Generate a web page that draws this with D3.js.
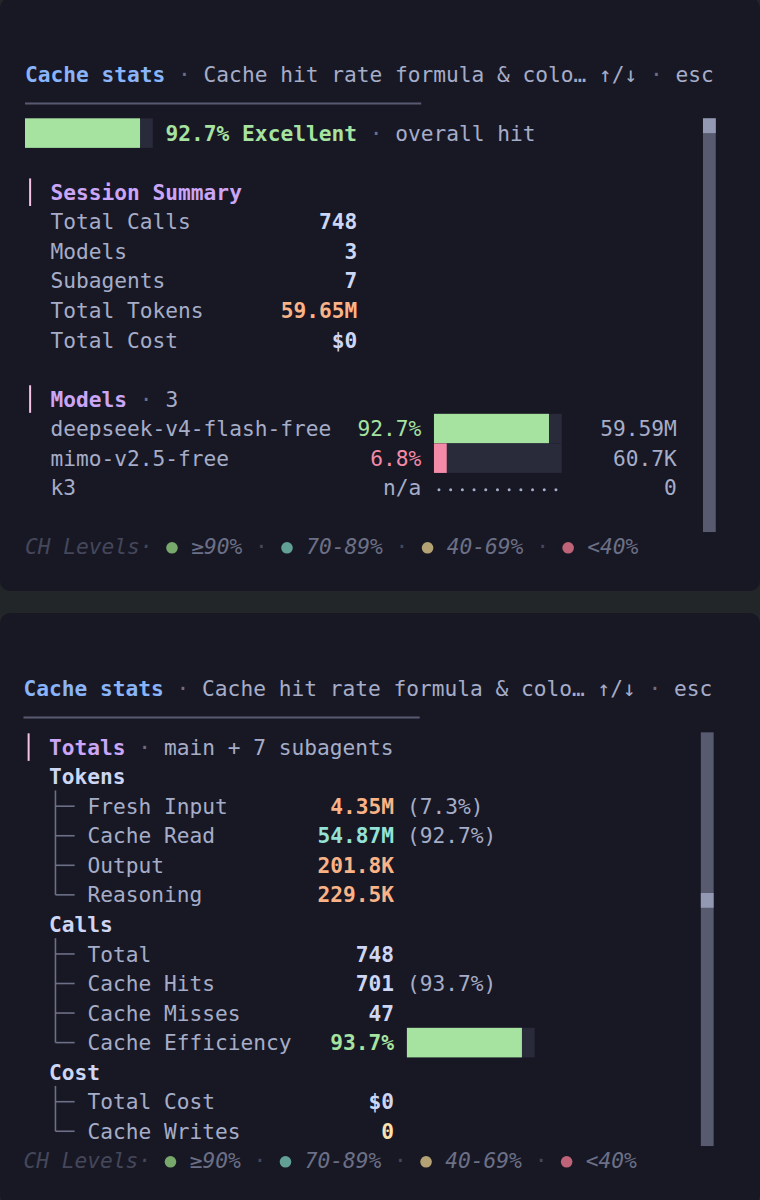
<!DOCTYPE html>
<html>
<head>
<meta charset="utf-8">
<script src="https://cdn.jsdelivr.net/npm/d3@7"></script>
<style>
  html, body { margin: 0; padding: 0; background: #222629; }
  svg { display: block; }
</style>
</head>
<body>
<svg id="view"></svg>
<script>
// ---- data ----
const titleMain = "Cache stats";
const titleSub = "Cache hit rate formula & colo… ↑/↓";
const overallHit = 92.7;

const summaryLabels = ["Total Calls", "Models", "Subagents", "Total Tokens", "Total Cost"];
const summaryValues = ["748", "3", "7", "59.65M", "$0"];

const modelNames = ["deepseek-v4-flash-free", "mimo-v2.5-free", "k3"];
const modelHitRates = [92.7, 6.8, null];
const modelTokens = ["59.59M", "60.7K", "0"];

const totalsNote = "main + 7 subagents";
const tokenLabels = ["Fresh Input", "Cache Read", "Output", "Reasoning"];
const tokenValues = ["4.35M", "54.87M", "201.8K", "229.5K"];
const tokenShares = ["(7.3%)", "(92.7%)", "", ""];
const callLabels = ["Total", "Cache Hits", "Cache Misses", "Cache Efficiency"];
const callValues = ["748", "701", "47", "93.7%"];
const callShares = ["", "(93.7%)", "", ""];
const cacheEfficiency = 93.7;
const costLabels = ["Total Cost", "Cache Writes"];
const costValues = ["$0", "0"];

const levelLabels = ["≥90%", "70-89%", "40-69%", "<40%"];

// ---- look ----
const W = 760, H = 1200;
const cw = 12.78, lh = 29.55, fs = 21.2;
const C = {
  panel: "#181825", text: "#cdd6f4", sub: "#a6adc8", dim: "#6c7086", faint: "#45475a",
  blue: "#89b4fa", mauve: "#cba6f7", green: "#a6e3a1", peach: "#fab387", pink: "#f38ba8",
  teal: "#94e2d5", yellow: "#f9e2af", track: "#292a3a", rule: "#585b70", accent: "#f5c2e7",
  thumb: "#9399b2", tree: "#6c7086"
};
const valueColor = {
  "Total Tokens": C.peach, "Fresh Input": C.peach, "Cache Read": C.teal, "Output": C.peach,
  "Reasoning": C.peach, "Cache Writes": C.yellow
};
const levelDots = ["#78a86c", "#62a096", "#b4a274", "#bf6478"];

const hitColor = d3.scaleThreshold().domain([40, 70, 90]).range([C.pink, C.yellow, C.teal, C.green]);
const hitWord = d3.scaleThreshold().domain([40, 70, 90]).range(["Poor", "Fair", "Good", "Excellent"]);
const barX = d3.scaleLinear().domain([0, 100]).range([0, 10 * cw]);
valueColor["Cache Efficiency"] = hitColor(cacheEfficiency);

const svg = d3.select("#view").attr("width", W).attr("height", H)
  .attr("viewBox", [0, 0, W, H])
  .style("font-family", "'DejaVu Sans Mono', 'Liberation Mono', monospace")
  .style("font-size", fs + "px");

svg.append("rect").attr("width", W).attr("height", H).attr("fill", "#222629");

function panel(y0, y1, x0, top) {
  svg.append("rect").attr("x", 0).attr("y", y0).attr("width", W).attr("height", y1 - y0)
    .attr("rx", 10).attr("fill", C.panel);
  const g = svg.append("g");
  const cx = c => x0 + c * cw;
  const cy = r => top + r * lh;
  const txt = (c, r, s, col, opt = {}) => g.append("text")
    .attr("x", cx(c)).attr("y", cy(r)).attr("dy", "0.36em")
    .attr("text-anchor", opt.end ? "end" : "start")
    .attr("fill", col).attr("font-weight", opt.bold ? "bold" : null)
    .attr("font-style", opt.italic ? "italic" : null)
    .text(s);
  return { g, cx, cy, txt };
}

function header(p) {
  const t = p.g.append("text").attr("x", p.cx(0)).attr("y", p.cy(0)).attr("dy", "0.36em");
  t.append("tspan").attr("fill", C.blue).attr("font-weight", "bold").text(titleMain);
  t.append("tspan").attr("fill", C.dim).text(" · ");
  t.append("tspan").attr("fill", C.sub).text(titleSub);
  t.append("tspan").attr("fill", C.dim).text(" · ");
  t.append("tspan").attr("fill", C.sub).text("esc");
  p.g.append("line").attr("x1", p.cx(0)).attr("x2", p.cx(31)).attr("y1", p.cy(1)).attr("y2", p.cy(1))
    .attr("stroke", C.rule).attr("stroke-width", 2);
}

function bar(p, col, row, pct) {
  p.g.append("rect").attr("x", p.cx(col)).attr("y", p.cy(row) - lh / 2)
    .attr("width", barX(100)).attr("height", lh).attr("fill", C.track);
  p.g.append("rect").attr("x", p.cx(col)).attr("y", p.cy(row) - lh / 2)
    .attr("width", barX(Math.max(1, Math.round(pct / 10)) * 10)).attr("height", lh)
    .attr("fill", hitColor(pct));
}

function accent(p, row) {
  p.g.append("line").attr("x1", p.cx(0.4)).attr("x2", p.cx(0.4))
    .attr("y1", p.cy(row) - lh / 2 + 1).attr("y2", p.cy(row) + lh / 2 - 1)
    .attr("stroke", C.accent).attr("stroke-width", 2);
}

function legend(p, row) {
  p.txt(0, row, "CH Levels·", C.faint, { italic: true });
  let c = 11;
  levelLabels.forEach((l, i) => {
    p.g.append("circle").attr("cx", p.cx(c + 0.5)).attr("cy", p.cy(row) + 1).attr("r", 5.8).attr("fill", levelDots[i]);
    p.txt(c + 2, row, l, C.dim, { italic: true });
    c += 2 + l.length + 1;
    if (i < levelLabels.length - 1) { p.txt(c, row, "·", C.faint); c += 2; }
  });
}

function scroll(p, col, r0, r1, thumbY) {
  p.g.append("rect").attr("x", p.cx(col)).attr("y", p.cy(r0) - lh / 2)
    .attr("width", cw).attr("height", (r1 - r0 + 1) * lh).attr("fill", C.rule);
  p.g.append("rect").attr("x", p.cx(col)).attr("y", thumbY)
    .attr("width", cw).attr("height", lh / 2).attr("fill", C.thumb);
}

// ---- panel 1 ----
const p1 = panel(-2, 591, 25, 74);
header(p1);
bar(p1, 0, 2, overallHit);
{
  const t = p1.g.append("text").attr("x", p1.cx(11)).attr("y", p1.cy(2)).attr("dy", "0.36em");
  t.append("tspan").attr("fill", hitColor(overallHit)).attr("font-weight", "bold")
    .text(d3.format(".1f")(overallHit) + "% " + hitWord(overallHit));
  t.append("tspan").attr("fill", C.dim).text(" · ");
  t.append("tspan").attr("fill", C.sub).text("overall hit");
}
accent(p1, 4);
p1.txt(2, 4, "Session Summary", C.mauve, { bold: true });
summaryLabels.forEach((l, i) => {
  p1.txt(2, 5 + i, l, C.sub);
  p1.txt(26, 5 + i, summaryValues[i], valueColor[l] || C.text, { end: true, bold: true });
});
accent(p1, 11);
{
  const t = p1.g.append("text").attr("x", p1.cx(2)).attr("y", p1.cy(11)).attr("dy", "0.36em");
  t.append("tspan").attr("fill", C.mauve).attr("font-weight", "bold").text("Models");
  t.append("tspan").attr("fill", C.dim).text(" · ");
  t.append("tspan").attr("fill", C.sub).text(modelNames.length);
}
modelNames.forEach((m, i) => {
  const r = 12 + i, v = modelHitRates[i];
  p1.txt(2, r, m, C.sub);
  if (v == null) {
    p1.txt(31, r, "n/a", C.sub, { end: true });
    p1.g.selectAll(null).data(d3.range(11)).join("circle")
      .attr("cx", d => p1.cx(32) + 5 + d * 11.7).attr("cy", p1.cy(r) + 2).attr("r", 1.5).attr("fill", C.sub);
  } else {
    p1.txt(31, r, d3.format(".1f")(v) + "%", hitColor(v), { end: true });
    bar(p1, 32, r, v);
  }
  p1.txt(51, r, modelTokens[i], C.sub, { end: true });
});
legend(p1, 16);
scroll(p1, 53.05, 2, 15, p1.cy(2) - lh / 2);

// ---- panel 2 ----
const p2 = panel(613, 1205, 23.5, 688);
header(p2);
accent(p2, 2);
{
  const t = p2.g.append("text").attr("x", p2.cx(2)).attr("y", p2.cy(2)).attr("dy", "0.36em");
  t.append("tspan").attr("fill", C.mauve).attr("font-weight", "bold").text("Totals");
  t.append("tspan").attr("fill", C.dim).text(" · ");
  t.append("tspan").attr("fill", C.sub).text(totalsNote);
}

function group(title, row, labels, values, shares) {
  p2.txt(2, row, title, C.text, { bold: true });
  const rows = labels.map((_, i) => row + 1 + i);
  const xv = p2.cx(2.5);
  p2.g.append("line").attr("x1", xv).attr("x2", xv)
    .attr("y1", p2.cy(row) + lh / 2 - 1).attr("y2", p2.cy(rows[rows.length - 1]))
    .attr("stroke", C.tree).attr("stroke-width", 1.6);
  rows.forEach((r, i) => {
    p2.g.append("line").attr("x1", xv).attr("x2", p2.cx(4)).attr("y1", p2.cy(r)).attr("y2", p2.cy(r))
      .attr("stroke", C.tree).attr("stroke-width", 1.6);
    p2.txt(5, r, labels[i], C.sub);
    p2.txt(29, r, values[i], valueColor[labels[i]] || C.text, { end: true, bold: true });
    if (shares && shares[i]) p2.txt(30, r, shares[i], C.sub);
  });
  return row + labels.length + 1;
}
let r = group("Tokens", 3, tokenLabels, tokenValues, tokenShares);
r = group("Calls", r, callLabels, callValues, callShares);
bar(p2, 30, r - 1, cacheEfficiency);
r = group("Cost", r, costLabels, costValues, null);
legend(p2, 16);
scroll(p2, 53, 2, 15, 893);
</script>
</body>
</html>
